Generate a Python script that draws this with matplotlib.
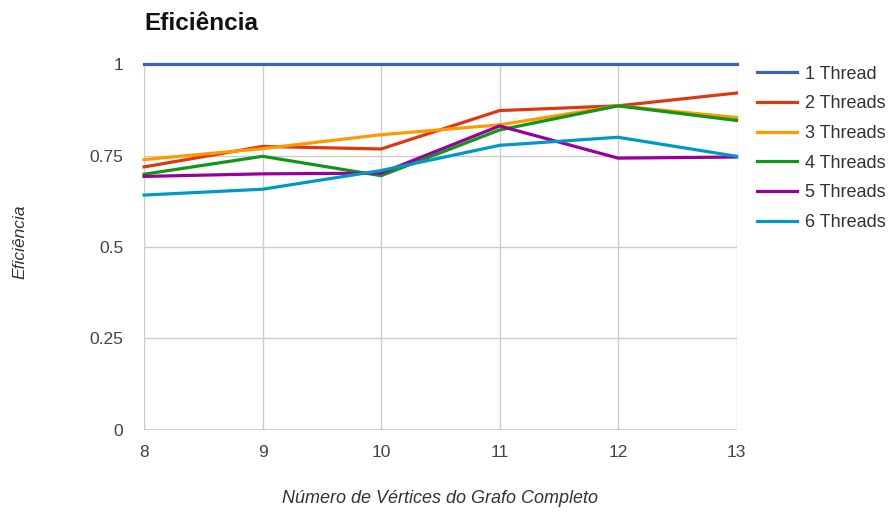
import matplotlib
matplotlib.use("Agg")
import matplotlib.pyplot as plt
from matplotlib.ticker import FuncFormatter

plt.rcParams['font.family'] = ['Liberation Sans', 'DejaVu Sans']

vertices = [8, 9, 10, 11, 12, 13]
t1 = [1.0, 1.0, 1.0, 1.0, 1.0, 1.0]
t2 = [0.719, 0.775, 0.768, 0.873, 0.886, 0.921]
t3 = [0.739, 0.769, 0.807, 0.834, 0.886, 0.854]
t4 = [0.699, 0.748, 0.695, 0.820, 0.886, 0.846]
t5 = [0.693, 0.700, 0.702, 0.831, 0.743, 0.746]
t6 = [0.642, 0.658, 0.709, 0.778, 0.800, 0.748]
labels = ["1 Thread", "2 Threads", "3 Threads", "4 Threads", "5 Threads", "6 Threads"]
colors = ["#3c62b8", "#dc3912", "#ff9900", "#109618", "#990099", "#0099c6"]

fig = plt.figure(figsize=(8.95, 5.13), dpi=100)
ax = fig.add_axes([0.161, 0.162, 0.662, 0.713])

for ys, lab, c in zip([t1, t2, t3, t4, t5, t6], labels, colors):
    ax.plot(vertices, ys, color=c, linewidth=2.3, label=lab, clip_on=False, zorder=3)

ax.set_xlim(8, 13)
ax.set_ylim(0, 1)
ax.set_xticks(vertices)
ax.set_yticks([0, 0.25, 0.5, 0.75, 1])
ax.yaxis.set_major_formatter(FuncFormatter(lambda v, p: "%g" % v))
ax.grid(True, color="#cccccc", linewidth=1)
for s in ax.spines.values():
    s.set_visible(False)
ax.axhline(0, color="#333333", linewidth=1, zorder=2)
ax.tick_params(length=0, labelsize=12.5, labelcolor="#444444")
ax.tick_params(axis='x', pad=11)
ax.tick_params(axis='y', pad=15)

fig.text(0.161, 0.955, "Eficiência", fontsize=17.5, fontweight="bold", va="center", ha="left", color="#111111")
fig.text(0.022, 0.528, "Eficiência", fontsize=12.5, style="italic", rotation=90,
         va="center", ha="center", color="#333333")
fig.text(0.492, 0.029, "Número de Vértices do Grafo Completo", fontsize=13, style="italic",
         va="center", ha="center", color="#333333")

fig.legend(*ax.get_legend_handles_labels(), loc="upper left", bbox_to_anchor=(0.846, 0.872),
           frameon=False, fontsize=13, borderpad=0, borderaxespad=0,
           handlelength=2.2, handletextpad=0.45, labelspacing=0.70, labelcolor="#333333")

fig.savefig("out.png", dpi=100)
